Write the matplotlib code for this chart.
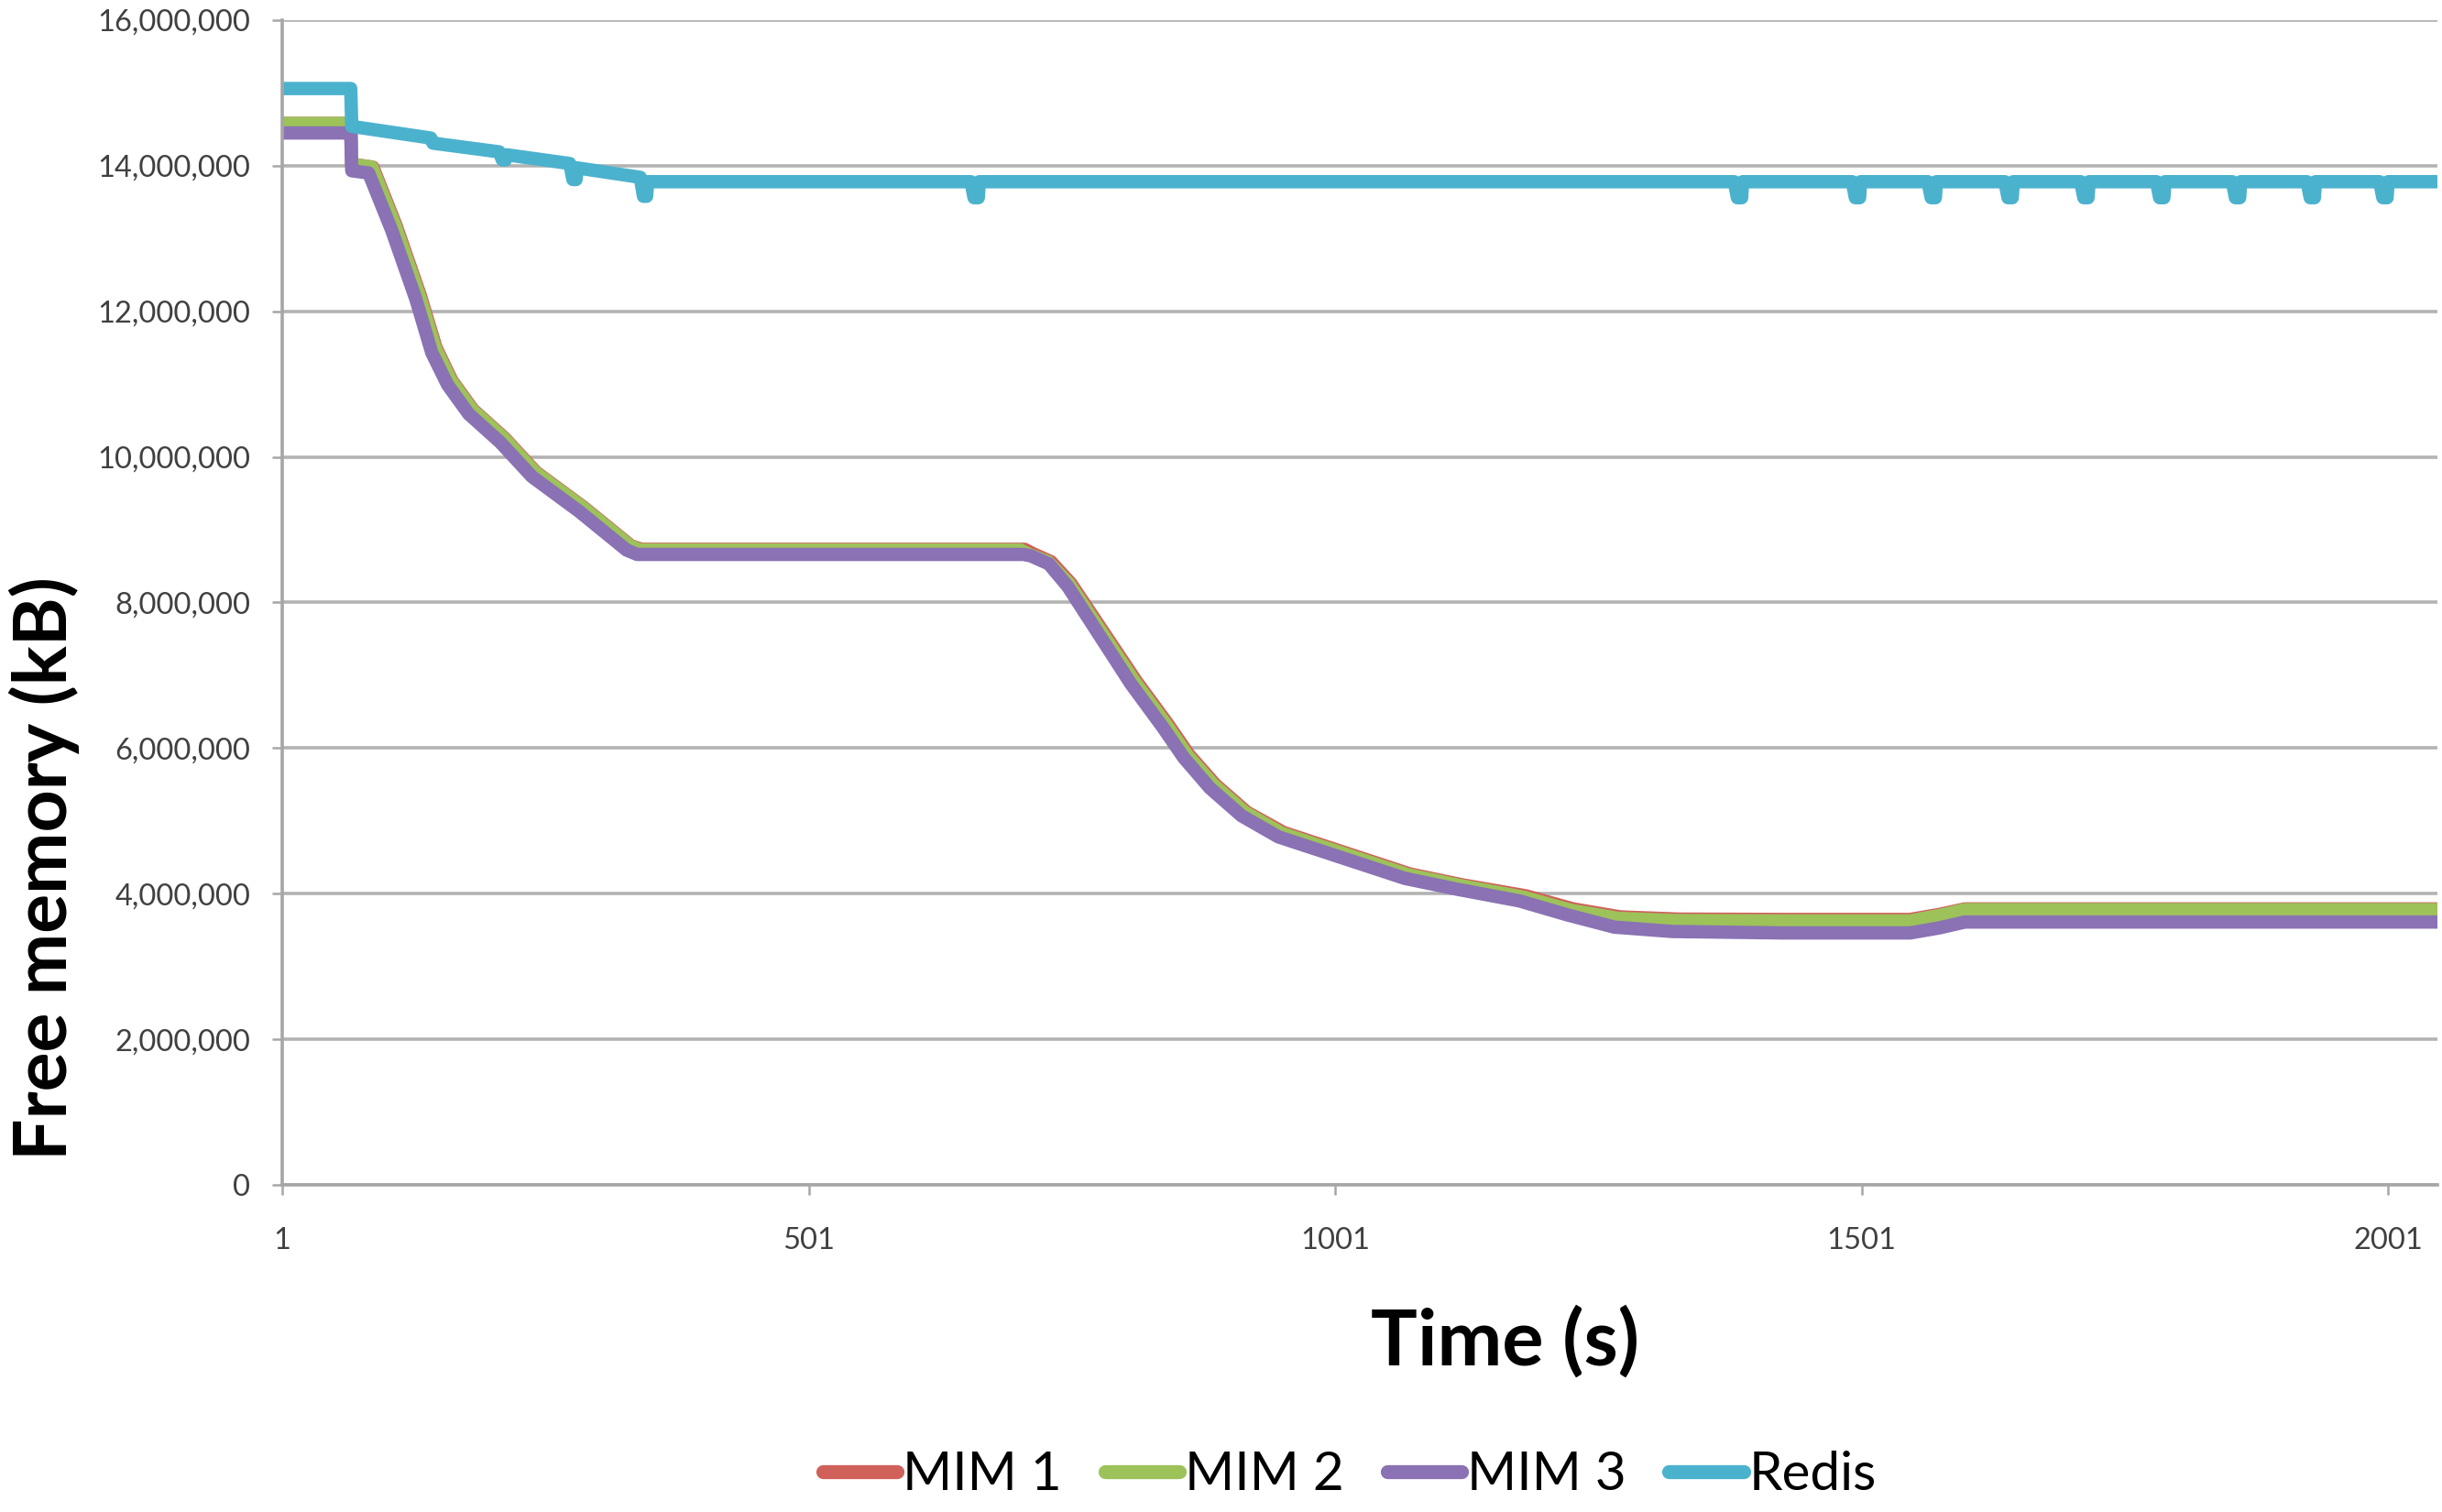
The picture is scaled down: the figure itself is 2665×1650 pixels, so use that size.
import matplotlib
matplotlib.use("Agg")
import matplotlib.pyplot as plt
from matplotlib.ticker import FuncFormatter

plt.rcParams['font.family'] = ['Lato', 'DejaVu Sans']

# time (s) and free memory (kB) for each run
mim1_t = [1, 66, 67, 87, 109, 132, 147, 162, 182, 212, 242, 287, 332, 342, 706, 714, 731, 750,
          781, 812, 842, 862, 887, 917, 952, 992, 1032, 1072, 1122, 1182, 1227, 1272, 1327, 1430,
          1547, 1575, 1599, 2048]
mim1_kb = [14580000, 14580000, 14020000, 13980000, 13180000, 12220000, 11500000, 11050000,
           10650000, 10260000, 9790000, 9310000, 8780000, 8730000, 8730000, 8670000, 8560000,
           8260000, 7590000, 6920000, 6330000, 5910000, 5500000, 5120000, 4840000, 4650000,
           4460000, 4270000, 4120000, 3970000, 3790000, 3680000, 3650000, 3645000, 3645000,
           3715000, 3790000, 3790000]

mim2_t = [1, 66, 67, 86, 108, 131, 146, 161, 181, 211, 241, 286, 331, 341, 702, 710, 728, 748,
          779, 810, 840, 860, 885, 915, 950, 990, 1030, 1070, 1120, 1180, 1225, 1270, 1325, 1430,
          1547, 1575, 1599, 2048]
mim2_kb = [14580000, 14580000, 14020000, 13980000, 13180000, 12220000, 11500000, 11050000,
           10650000, 10260000, 9790000, 9310000, 8780000, 8720000, 8720000, 8660000, 8560000,
           8260000, 7590000, 6920000, 6330000, 5910000, 5500000, 5120000, 4830000, 4640000,
           4450000, 4260000, 4110000, 3950000, 3770000, 3660000, 3630000, 3625000, 3625000,
           3700000, 3780000, 3780000]

mim3_t = [1, 66, 67, 83, 105, 128, 143, 158, 178, 208, 238, 283, 328, 338, 705, 712, 729, 747,
          777, 807, 837, 857, 882, 912, 947, 987, 1027, 1067, 1117, 1176, 1221, 1266, 1321, 1426,
          1547, 1575, 1599, 2048]
mim3_kb = [14450000, 14450000, 13930000, 13900000, 13110000, 12160000, 11430000, 10990000,
           10590000, 10200000, 9730000, 9250000, 8720000, 8660000, 8660000, 8640000, 8530000,
           8220000, 7550000, 6880000, 6290000, 5870000, 5450000, 5070000, 4780000, 4590000,
           4400000, 4210000, 4060000, 3900000, 3710000, 3540000, 3480000, 3460000, 3460000,
           3530000, 3610000, 3610000]

redis_t = [1, 66, 67, 142, 144, 207, 210, 213, 214, 274, 277, 280, 281, 341, 344, 347, 348,
           655, 658, 662, 663, 1380, 1383, 1387, 1388, 1492, 1495, 1499, 1500,
           1564, 1567, 1571, 1572, 1637, 1640, 1644, 1645, 1709, 1712, 1716, 1717,
           1781, 1784, 1788, 1789, 1853, 1856, 1860, 1861, 1924, 1927, 1931, 1932,
           1993, 1996, 2000, 2001, 2048]
redis_kb = [15060000, 15060000, 14540000, 14380000, 14310000, 14190000, 14080000, 14080000,
            14150000, 14030000, 13810000, 13810000, 13970000, 13840000, 13580000, 13580000,
            13780000,
            13780000, 13560000, 13560000, 13780000, 13780000, 13560000, 13560000, 13780000,
            13780000, 13560000, 13560000, 13780000, 13780000, 13560000, 13560000, 13780000,
            13780000, 13560000, 13560000, 13780000, 13780000, 13560000, 13560000, 13780000,
            13780000, 13560000, 13560000, 13780000, 13780000, 13560000, 13560000, 13780000,
            13780000, 13560000, 13560000, 13780000, 13780000, 13560000, 13560000, 13780000,
            13780000]

x_ticks = [1, 501, 1001, 1501, 2001]
y_ticks = list(range(0, 16000001, 2000000))

series = [
    ("MIM 1", mim1_t, mim1_kb, "#D0605A"),
    ("MIM 2", mim2_t, mim2_kb, "#9DC25A"),
    ("MIM 3", mim3_t, mim3_kb, "#8A72B4"),
    ("Redis", redis_t, redis_kb, "#4BB2CE"),
]

fig = plt.figure(figsize=(26.65, 16.5), dpi=100)
ax = fig.add_axes([0.1156, 0.2164, 0.8826, 0.7703])

for name, t, kb, col in series:
    ax.plot(t, kb, color=col, lw=10.5, label=name,
            solid_joinstyle='round', solid_capstyle='butt')

ax.set_xlim(1, 2048)
ax.set_ylim(0, 16000000)
ax.set_xticks(x_ticks)
ax.set_yticks(y_ticks)
ax.yaxis.set_major_formatter(FuncFormatter(lambda v, p: f"{v:,.0f}"))

ax.yaxis.grid(True, color='#b3b3b3', lw=2.6)
ax.set_axisbelow(True)
for s in ['top', 'right']:
    ax.spines[s].set_visible(False)
for s in ['left', 'bottom']:
    ax.spines[s].set_color('#a6a6a6')
    ax.spines[s].set_linewidth(2.6)

ax.tick_params(axis='y', length=8, width=1.8, color='#a6a6a6', pad=17,
               labelsize=23.5, labelcolor='#404040')
ax.tick_params(axis='x', length=8, width=1.8, color='#a6a6a6', pad=25,
               labelsize=23.5, labelcolor='#404040')

fig.text(0.018, 0.4255, "Free memory (kB)", rotation=90, ha='center', va='center',
         fontsize=58, fontweight='bold')
fig.text(0.6165, 0.113, "Time (s)", ha='center', va='center',
         fontsize=61, fontweight='bold')

leg = fig.legend(loc='center', bbox_to_anchor=(0.5527, 0.0245), ncol=4, frameon=False,
                 fontsize=42, handlelength=1.4, handletextpad=0.1, columnspacing=0.8)
for h in leg.get_lines():
    h.set_linewidth(11)
    h.set_solid_capstyle('round')

fig.savefig("out.png", dpi=100)
